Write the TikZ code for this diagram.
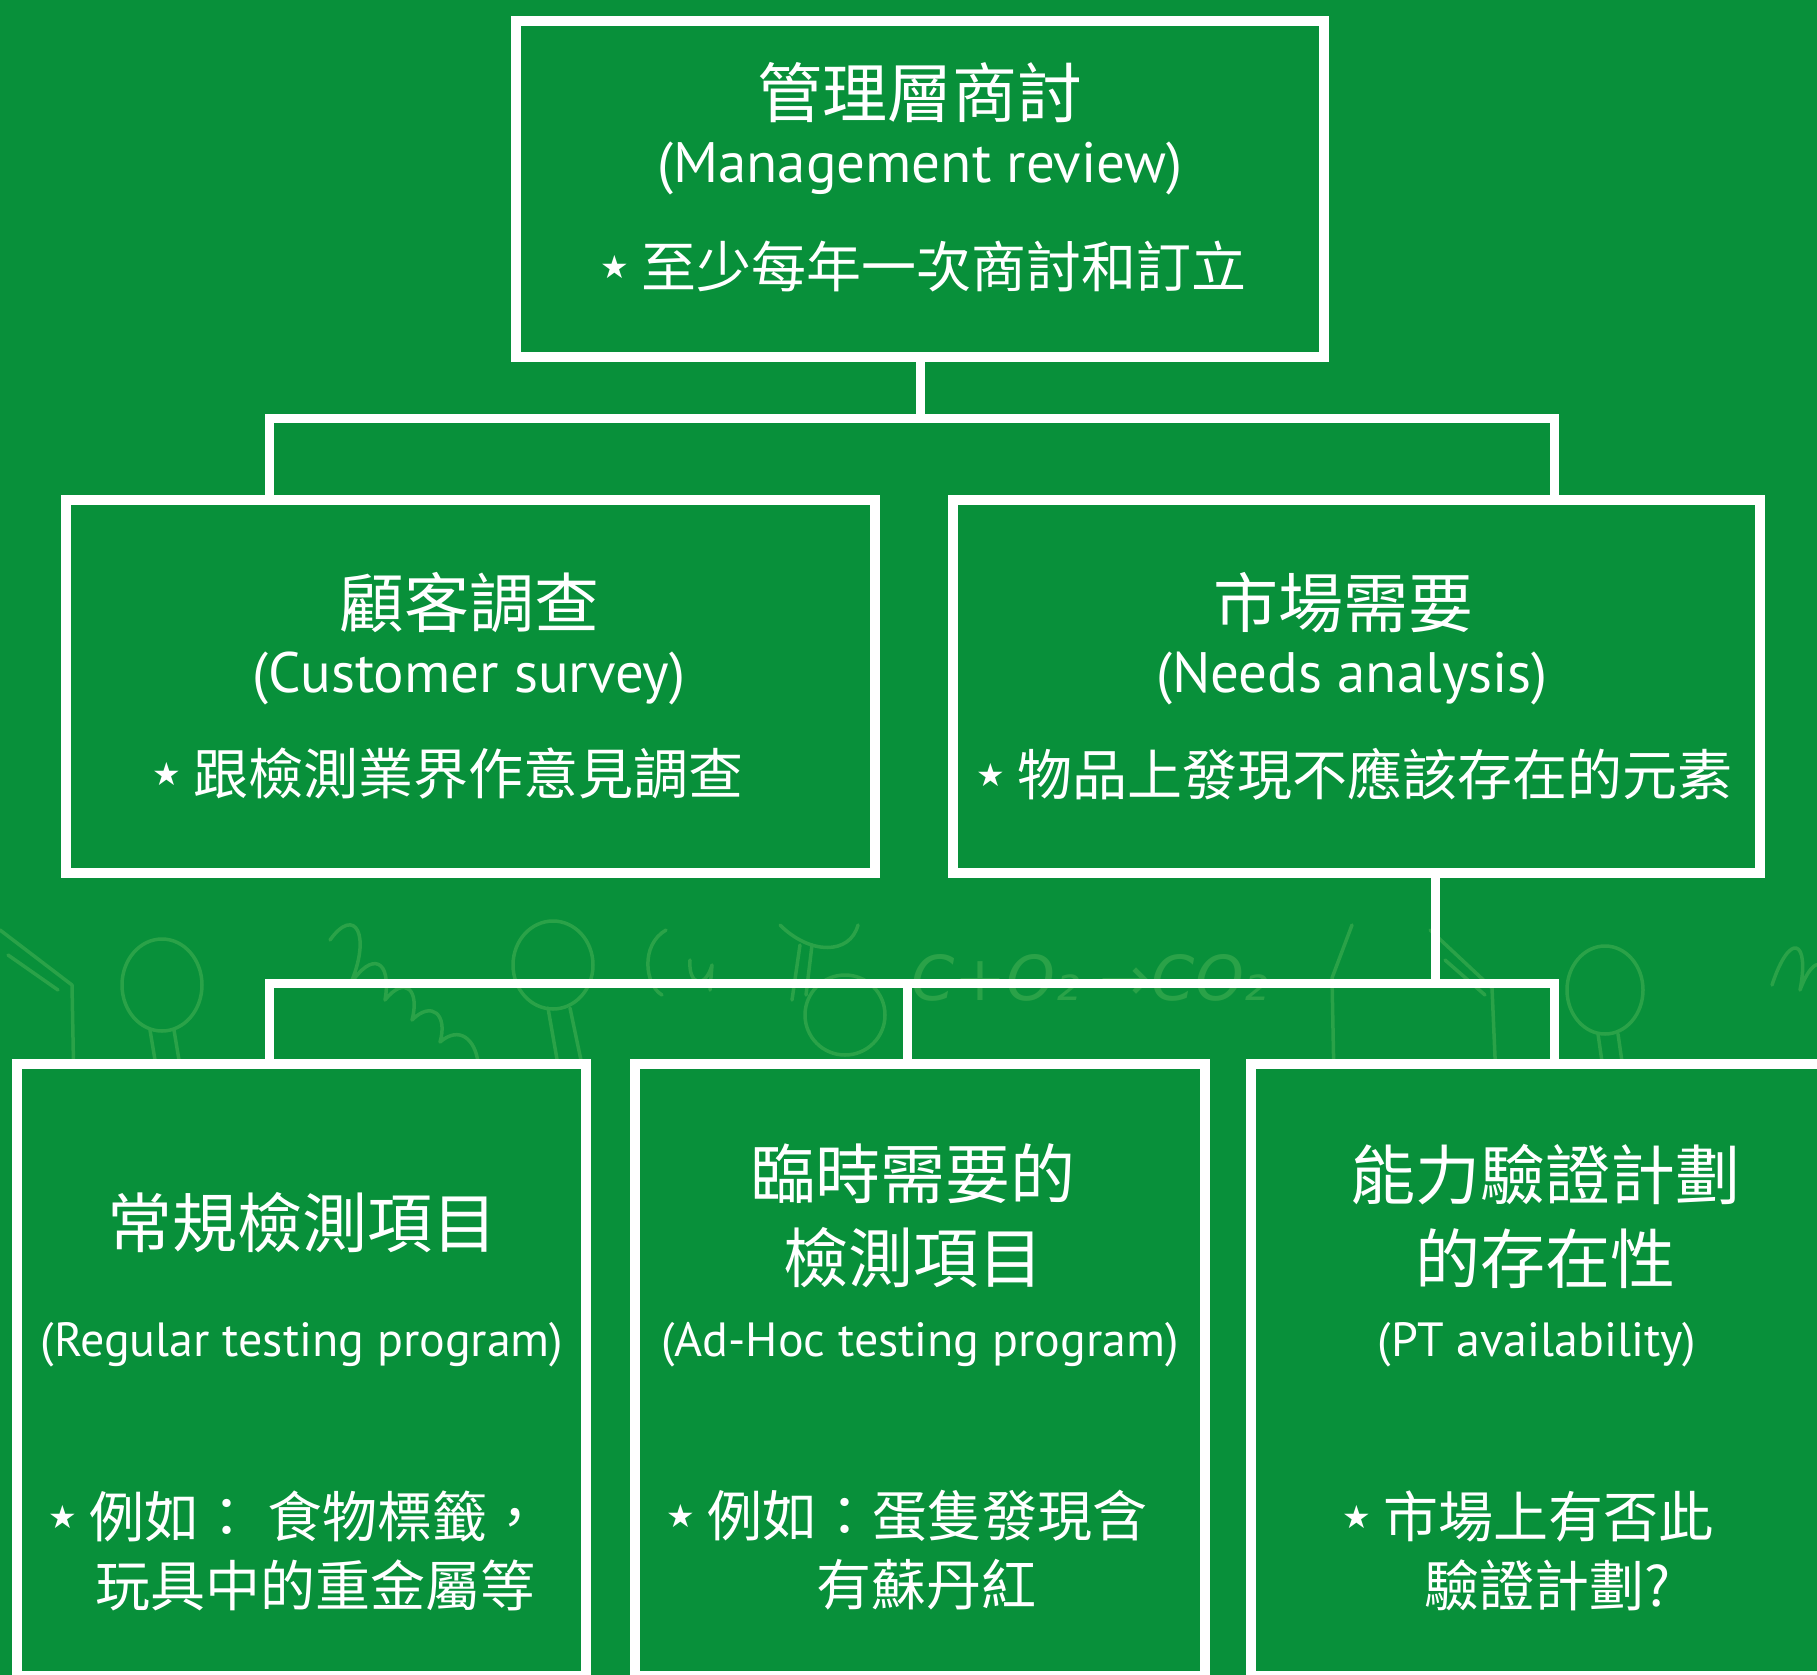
\documentclass[tikz,border=0pt]{standalone}
\usepackage{fontspec}
\newfontfamily\cjk{Noto Sans CJK TC}
\newfontfamily\latin{PT Sans}
\newfontfamily\symb{DejaVu Sans}
\usetikzlibrary{calc}
\definecolor{board}{RGB}{8,144,58}
\definecolor{chalk}{RGB}{42,162,72}
\newcommand{\bstar}{\raisebox{9pt}{\symb\fontsize{32}{32}\selectfont ★}\hspace{13pt}}
\begin{document}
\begin{tikzpicture}[x=1pt,y=-1pt,
  frame/.style={draw=white, line width=10pt, fill=board, inner sep=0pt},
  link/.style={draw=white, line width=9pt, line join=miter},
  title/.style={text=white, font=\cjk\fontsize{65}{84}\selectfont, align=center, inner sep=0pt},
  eng/.style={text=white, font=\latin\fontsize{57}{64}\selectfont, inner sep=0pt},
  engsm/.style={text=white, font=\latin\fontsize{48}{58}\selectfont, inner sep=0pt},
  bul/.style={text=white, font=\cjk\fontsize{55}{69}\selectfont, inner sep=0pt},
  sketch/.style={draw=chalk, line width=3.5pt, line cap=round, line join=round}]
\useasboundingbox (0,0) rectangle (1817,1675);
\clip (0,0) rectangle (1817,1675);
\fill[board] (0,0) rectangle (1817,1675);

% faint chalk sketches of lab glassware and formulas
\begin{scope}[sketch]
  \draw (0,930) -- (72,985) -- (74,1090);
  \draw (8,955) -- (58,990);
  \draw (162,985) ellipse (40 and 46);
  \draw (150,1030) -- (160,1090);
  \draw (174,1030) -- (184,1090);
  \draw (330,940) .. controls (355,905) and (372,935) .. (350,985)
        .. controls (372,950) and (392,960) .. (385,1000)
        .. controls (405,975) and (420,990) .. (412,1020)
        .. controls (432,1000) and (448,1015) .. (440,1042)
        .. controls (460,1025) and (475,1040) .. (478,1062);
  \draw (553,965) ellipse (40 and 44);
  \draw (548,1008) -- (558,1065);
  \draw (570,1008) -- (582,1065);
  \draw (666,930) .. controls (640,945) and (645,985) .. (662,995);
  \draw (690,960) .. controls (688,985) and (705,990) .. (712,965) -- (710,990);
  \draw (780,925) .. controls (810,955) and (850,955) .. (858,925);
  \draw (800,945) -- (792,1000);
  \draw (812,945) -- (806,995);
  \draw (845,1015) circle (40);
  \draw (1352,925) -- (1332,978) -- (1334,1080);
  \draw (1430,930) -- (1492,988) -- (1496,1080);
  \draw (1445,960) -- (1485,995);
  \draw (1605,990) ellipse (38 and 44);
  \draw (1598,1034) -- (1606,1090);
  \draw (1618,1034) -- (1626,1090);
  \draw (1772,985) .. controls (1790,930) and (1810,940) .. (1800,990)
        .. controls (1815,950) and (1830,960) .. (1825,1000);
\end{scope}
\node[text=chalk, font=\symb\itshape\fontsize{62}{62}\selectfont, inner sep=0pt] (formula) at (1090,978) {C+O₂ →CO₂};

% boxes
\node[frame, minimum width=808pt, minimum height=336pt] (top) at (920,189) {};
\node[frame, minimum width=809pt, minimum height=373pt] (survey) at (470.5,686.5) {};
\node[frame, minimum width=807pt, minimum height=373pt] (needs) at (1356.5,686.5) {};
\node[frame, minimum width=569pt, minimum height=612pt] (regular) at (301.5,1370) {};
\node[frame, minimum width=570pt, minimum height=612pt] (adhoc) at (920,1370) {};
\node[frame, minimum width=589pt, minimum height=612pt] (pt) at (1545.5,1370) {};

% connectors
\coordinate (busA) at (269,418);
\coordinate (busB) at (1554,418);
\coordinate (busC) at (269,983);
\coordinate (busD) at (1554,983);
\coordinate (dropM) at (907,983);
\coordinate (dropN) at (1435,983);
\draw[link] (top.south) -- (top.south |- busA);
\draw[link] (busA |- survey.north) -- (busA) -- (busB) -- (busB |- needs.north);
\draw[link] (dropN |- needs.south) -- (dropN);
\draw[link] (busC |- regular.north) -- (busC) -- (busD) -- (busD |- pt.north);
\draw[link] (dropM) -- (dropM |- adhoc.north);

% texts: management review
\node[title] (topT) at (920,93) {管理層商討};
\node[eng] (topE) at (920,168) {(Management review)};
\node[bul, anchor=west] (topB) at (600,267) {\bstar 至少每年一次商討和訂立};

% customer survey
\node[title] (survT) at (469,603) {顧客調查};
\node[eng] (survE) at (469,678) {(Customer survey)};
\node[bul, anchor=west] (survB) at (152,774) {\bstar 跟檢測業界作意見調查};

% needs analysis
\node[title] (needT) at (1343,603) {市場需要};
\node[eng] (needE) at (1352,678) {(Needs analysis)};
\node[bul, anchor=west] (needB) at (976,774) {\bstar 物品上發現不應該存在的元素};

% regular testing
\node[title] (regT) at (302,1223) {常規檢測項目};
\node[engsm] (regE) at (302,1345) {(Regular testing program)};
\node[bul, anchor=west] (regB1) at (48,1516) {\bstar 例如： 食物標籤，};
\node[bul, anchor=west] (regB2) at (95,1585) {玩具中的重金屬等};

% ad-hoc testing
\node[title] (adT) at (913,1216) {臨時需要的\\檢測項目};
\node[engsm] (adE) at (920,1345) {(Ad-Hoc testing program)};
\node[bul, anchor=west] (adB1) at (666,1516) {\bstar 例如：蛋隻發現含};
\node[bul] (adB2) at (926,1585) {有蘇丹紅};

% PT availability
\node[title] (ptT) at (1545,1216) {能力驗證計劃\\的存在性};
\node[engsm] (ptE) at (1537,1345) {(PT availability)};
\node[bul, anchor=west] (ptB1) at (1342,1516) {\bstar 市場上有否此};
\node[bul] (ptB2) at (1548,1585) {驗證計劃?};
\end{tikzpicture}
\end{document}
